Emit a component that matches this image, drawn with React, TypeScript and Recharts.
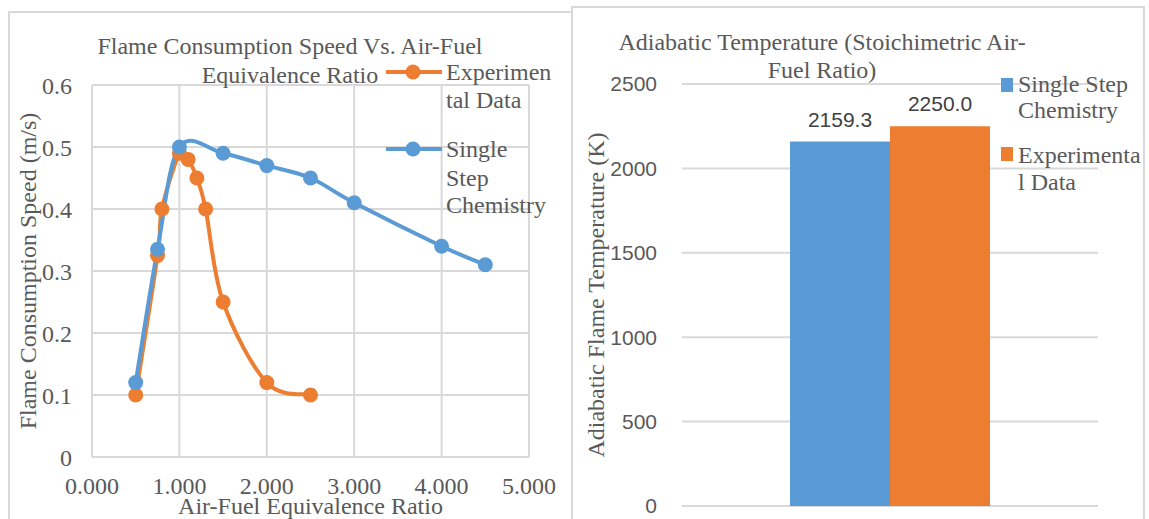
import React from 'react'
import { LineChart, Line, BarChart, Bar, XAxis, YAxis, CartesianGrid, LabelList } from 'recharts'

// flame consumption speed vs air-fuel equivalence ratio
const expRatio = [0.5, 0.75, 0.8, 1.0, 1.1, 1.2, 1.3, 1.5, 2.0, 2.5]
const expSpeed = [0.1, 0.325, 0.4, 0.49, 0.48, 0.45, 0.4, 0.25, 0.12, 0.1]
const simRatio = [0.5, 0.75, 1.0, 1.5, 2.0, 2.5, 3.0, 4.0, 4.5]
const simSpeed = [0.12, 0.335, 0.5, 0.49, 0.47, 0.45, 0.41, 0.34, 0.31]
const speedTicks = [0, 0.1, 0.2, 0.3, 0.4, 0.5, 0.6]
const ratioTicks = [0, 1, 2, 3, 4, 5]

// adiabatic temperature
const tempCategories = ['Stoichiometric']
const tempSingleStep = [2159.3]
const tempExperimental = [2250.0]
const tempTicks = [0, 500, 1000, 1500, 2000, 2500]

const BLUE = '#5b9bd5'
const ORANGE = '#ed7d31'
const TEXT = '#595959'
const GRID = '#d9d9d9'
const SERIF = '"Liberation Serif", "Times New Roman", serif'
const SANS = '"Liberation Sans", Arial, sans-serif'

const expData = expRatio.map((x, i) => ({ x, y: expSpeed[i] }))
const simData = simRatio.map((x, i) => ({ x, y: simSpeed[i] }))
const tempData = tempCategories.map((name, i) => ({
  name,
  single: tempSingleStep[i],
  exp: tempExperimental[i],
}))

// Excel-like smoothed line (Catmull-Rom through every point)
const smoothCurve: any = (ctx: any) => {
  let pts: number[][] = []
  return {
    areaStart() {},
    areaEnd() {},
    lineStart() {
      pts = []
    },
    point(x: number, y: number) {
      pts.push([+x, +y])
    },
    lineEnd() {
      if (!pts.length) return
      ctx.moveTo(pts[0][0], pts[0][1])
      for (let i = 0; i < pts.length - 1; i++) {
        const p0 = pts[i - 1] || pts[i]
        const p1 = pts[i]
        const p2 = pts[i + 1]
        const p3 = pts[i + 2] || p2
        const c1x = p1[0] + (p2[0] - p0[0]) / 6
        const c1y = p1[1] + (p2[1] - p0[1]) / 6
        const c2x = p2[0] - (p3[0] - p1[0]) / 6
        const c2y = p2[1] - (p3[1] - p1[1]) / 6
        ctx.bezierCurveTo(c1x, c1y, c2x, c2y, p2[0], p2[1])
      }
    },
  }
}

const LineIcon = ({ color }: { color: string }) => (
  <svg width={56} height={16} style={{ position: 'absolute', left: 0, top: 0 }}>
    <line x1={0} y1={8} x2={56} y2={8} stroke={color} strokeWidth={4} />
    <circle cx={27} cy={8} r={7.5} fill={color} />
  </svg>
)

const textLine = (left: number, centerY: number, text: string, size = 24) => (
  <div
    key={text + centerY}
    style={{
      position: 'absolute',
      left,
      top: centerY - 14,
      fontSize: size,
      lineHeight: '28px',
      whiteSpace: 'nowrap',
      color: TEXT,
    }}
  >
    {text}
  </div>
)

export default function App() {
  const tick = { fontSize: 24, fill: TEXT, fontFamily: SERIF }
  return (
    <div
      style={{
        position: 'absolute',
        left: 0,
        top: 0,
        width: 1149,
        height: 519,
        overflow: 'hidden',
        background: '#fff',
        fontFamily: SERIF,
      }}
    >
      <div
        style={{ position: 'absolute', left: 8, top: 11, width: 565, height: 530, border: `2px solid ${GRID}`, boxSizing: 'border-box' }}
      />
      <div
        style={{ position: 'absolute', left: 571, top: 6, width: 574, height: 530, border: `2px solid ${GRID}`, boxSizing: 'border-box' }}
      />

      {/* left chart */}
      <div style={{ position: 'absolute', left: 0, top: 0 }}>
        <LineChart width={575} height={519} margin={{ top: 85, right: 46, bottom: 2, left: 32 }}>
          <CartesianGrid stroke={GRID} strokeWidth={2} />
          <XAxis
            dataKey="x"
            type="number"
            domain={[0, 5]}
            ticks={ratioTicks}
            tickFormatter={(v: number) => v.toFixed(3)}
            axisLine={false}
            tickLine={false}
            tickSize={0}
            tickMargin={20}
            height={60}
            tick={tick}
            label={{ value: 'Air-Fuel Equivalence Ratio', position: 'insideBottom', offset: 3, fill: TEXT, fontSize: 24, fontFamily: SERIF }}
          />
          <YAxis
            type="number"
            domain={[0, 0.6]}
            ticks={speedTicks}
            axisLine={false}
            tickLine={false}
            tickSize={0}
            tickMargin={20}
            width={60}
            tick={tick}
            label={{ value: 'Flame Consumption Speed (m/s)', angle: -90, position: 'center', dx: -35, fill: TEXT, fontSize: 24, fontFamily: SERIF }}
          />
          <Line
            data={expData}
            dataKey="y"
            type={smoothCurve}
            stroke={ORANGE}
            strokeWidth={4}
            dot={{ r: 7.5, fill: ORANGE, stroke: ORANGE, strokeWidth: 0 }}
            activeDot={false}
            isAnimationActive={false}
          />
          <Line
            data={simData}
            dataKey="y"
            type={smoothCurve}
            stroke={BLUE}
            strokeWidth={4}
            dot={{ r: 7.5, fill: BLUE, stroke: BLUE, strokeWidth: 0 }}
            activeDot={false}
            isAnimationActive={false}
          />
        </LineChart>
      </div>
      <div style={{ position: 'absolute', left: 90, top: 32, width: 400, textAlign: 'center', fontSize: 24, lineHeight: '29px', color: TEXT }}>
        Flame Consumption Speed Vs. Air-Fuel
        <br />
        Equivalence Ratio
      </div>
      <div style={{ position: 'absolute', left: 386, top: 64, width: 56, height: 16 }}>
        <LineIcon color={ORANGE} />
      </div>
      {textLine(446, 72, 'Experimen')}
      {textLine(446, 100, 'tal Data')}
      <div style={{ position: 'absolute', left: 386, top: 141, width: 56, height: 16 }}>
        <LineIcon color={BLUE} />
      </div>
      {textLine(446, 149, 'Single')}
      {textLine(446, 178, 'Step')}
      {textLine(446, 205, 'Chemistry')}

      {/* right chart */}
      <div style={{ position: 'absolute', left: 575, top: 0 }}>
        <BarChart
          width={574}
          height={519}
          data={tempData}
          margin={{ top: 84, right: 51, bottom: 13, left: 37 }}
          barGap={0}
        >
          <CartesianGrid stroke={GRID} strokeWidth={2} vertical={false} />
          <XAxis dataKey="name" hide />
          <YAxis
            domain={[0, 2500]}
            ticks={tempTicks}
            axisLine={false}
            tickLine={false}
            tickSize={0}
            tickMargin={25}
            width={70}
            tick={{ fontSize: 21, fill: TEXT, fontFamily: SANS }}
            label={{ value: 'Adiabatic Flame Temperature (K)', angle: -90, position: 'center', dx: -52, fill: TEXT, fontSize: 24, fontFamily: SERIF }}
          />
          <Bar dataKey="single" fill={BLUE} barSize={100} isAnimationActive={false}>
            <LabelList
              dataKey="single"
              position="top"
              offset={15}
              formatter={(v: any) => Number(v).toFixed(1)}
              style={{ fontSize: 21, fill: '#404040', fontFamily: SANS }}
            />
          </Bar>
          <Bar dataKey="exp" fill={ORANGE} barSize={100} isAnimationActive={false}>
            <LabelList
              dataKey="exp"
              position="top"
              offset={15}
              formatter={(v: any) => Number(v).toFixed(1)}
              style={{ fontSize: 21, fill: '#404040', fontFamily: SANS }}
            />
          </Bar>
        </BarChart>
      </div>
      <div style={{ position: 'absolute', left: 602, top: 28, width: 440, textAlign: 'center', fontSize: 24, lineHeight: '28px', color: TEXT }}>
        Adiabatic Temperature (Stoichimetric Air-
        <br />
        Fuel Ratio)
      </div>
      <div style={{ position: 'absolute', left: 1001, top: 78, width: 12, height: 14, background: BLUE }} />
      {textLine(1018, 84, 'Single Step')}
      {textLine(1018, 110, 'Chemistry')}
      <div style={{ position: 'absolute', left: 1001, top: 147, width: 12, height: 14, background: ORANGE }} />
      {textLine(1018, 155, 'Experimenta')}
      {textLine(1018, 182, 'l Data')}
    </div>
  )
}
